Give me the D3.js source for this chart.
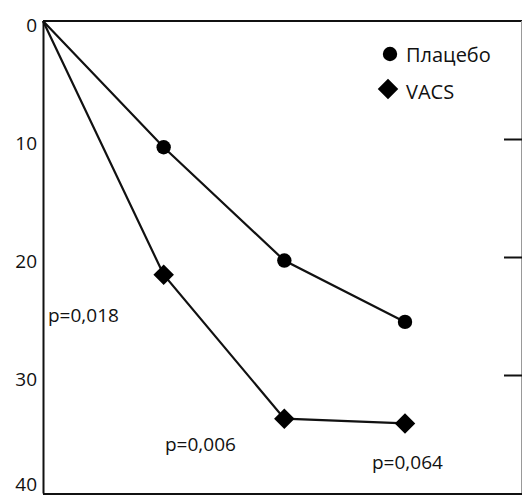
<!DOCTYPE html>
<html>
<head>
<meta charset="utf-8">
<script src="https://cdn.jsdelivr.net/npm/d3@7"></script>
<style>
  html, body { margin: 0; padding: 0; background: #fff; }
  svg { display: block; }
  text { font-family: "Open Sans", "DejaVu Sans", sans-serif; fill: #111; }
</style>
</head>
<body>
<svg id="chart" width="523" height="498"></svg>
<script>
// Time points (visits) and mean decrease per group
const timePoints = [0, 1, 2, 3];
const placeboValues = [0, 10.7, 20.3, 25.5];
const vacsValues = [0, 21.5, 33.7, 34.1];
const seriesNames = ["Плацебо", "VACS"];
const yTicks = [0, 10, 20, 30, 40];
const rightTicks = [10, 20, 30];
const pLabels = ["p=0,018", "p=0,006", "p=0,064"];

const svg = d3.select("#chart");
const plotLeft = 43, plotRight = 522, plotTop = 21, plotBottom = 493;

const x = d3.scaleLinear().domain([0, 3]).range([plotLeft, 405]);
const y = d3.scaleLinear().domain([0, 40]).range([plotTop, plotBottom]);

// Frame lines
const frame = svg.append("g").attr("stroke", "#111").attr("fill", "none");
frame.append("line").attr("x1", plotLeft).attr("x2", plotRight).attr("y1", plotTop).attr("y2", plotTop).attr("stroke-width", 2);
frame.append("line").attr("x1", plotLeft).attr("x2", plotRight).attr("y1", plotBottom + 1).attr("y2", plotBottom + 1).attr("stroke-width", 2);
frame.append("line").attr("x1", plotRight - 0.5).attr("x2", plotRight - 0.5).attr("y1", plotTop).attr("y2", plotBottom).attr("stroke-width", 1).attr("stroke", "#999");

// Left axis: labels plus the spine
const yAxis = svg.append("g")
  .attr("transform", `translate(${plotLeft},0)`)
  .call(d3.axisLeft(y).tickValues(yTicks).tickSize(0).tickPadding(6).tickFormat(d3.format("d")));
yAxis.select(".domain").attr("stroke", "#111").attr("stroke-width", 2);
yAxis.selectAll("text").attr("font-size", 19)
  .attr("dy", d => d === 40 ? "-0.15em" : "0.55em")
  .style("font-family", "'Open Sans', sans-serif").attr("fill", "#111");

// Right-hand tick marks
const rAxis = svg.append("g")
  .attr("transform", `translate(${plotRight},0)`)
  .call(d3.axisLeft(y).tickValues(rightTicks).tickSize(18).tickFormat(""));
rAxis.select(".domain").remove();
rAxis.selectAll("line").attr("stroke", "#111").attr("stroke-width", 2);

const line = d3.line().x((d, i) => x(timePoints[i])).y(d => y(d));

svg.append("path").datum(placeboValues)
  .attr("d", line).attr("fill", "none").attr("stroke", "#111").attr("stroke-width", 2.2);
svg.append("path").datum(vacsValues)
  .attr("d", line).attr("fill", "none").attr("stroke", "#111").attr("stroke-width", 2.2);

const circle = d3.symbol().type(d3.symbolCircle).size(Math.PI * 7.2 * 7.2);
const diamond = d3.symbol().type(d3.symbolSquare).size(14.5 * 14.5);

svg.append("g").selectAll("path")
  .data(placeboValues.slice(1))
  .join("path")
  .attr("d", circle)
  .attr("transform", (d, i) => `translate(${x(timePoints[i + 1])},${y(d)})`)
  .attr("fill", "#000");

svg.append("g").selectAll("path")
  .data(vacsValues.slice(1))
  .join("path")
  .attr("d", diamond)
  .attr("transform", (d, i) => `translate(${x(timePoints[i + 1])},${y(d)}) rotate(45)`)
  .attr("fill", "#000");

// Significance labels under each VACS point
const pPos = [[48, 322], [165, 451], [372, 469]];
svg.append("g").selectAll("text")
  .data(pLabels)
  .join("text")
  .attr("x", (d, i) => pPos[i][0])
  .attr("y", (d, i) => pPos[i][1])
  .attr("font-size", 19)
  .text(d => d);

// Legend
const legend = svg.append("g");
legend.append("path").attr("d", circle).attr("transform", "translate(390,54)").attr("fill", "#000");
legend.append("path").attr("d", diamond).attr("transform", "translate(388,89) rotate(45)").attr("fill", "#000");
legend.append("text").attr("x", 406).attr("y", 62).attr("font-size", 20).text(seriesNames[0]);
legend.append("text").attr("x", 406).attr("y", 99).attr("font-size", 20).text(seriesNames[1]);
</script>
</body>
</html>
